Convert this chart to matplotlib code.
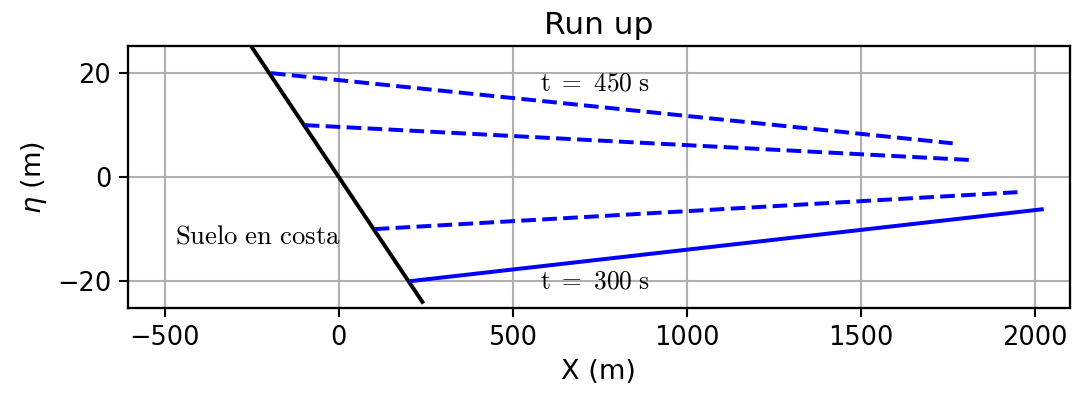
import numpy as np
import matplotlib
matplotlib.use("Agg")
import matplotlib.pyplot as plt

# suelo (costa): eta = -0.1 * x
x_suelo = [-260, 240]
y_suelo = [26, -24]

# perfiles de ola (inicio en la costa, final mar adentro)
x_t300 = [207, 2020]
y_t300 = [-20, -6.2]
x_d1 = [103, 1950]
y_d1 = [-10, -2.9]
x_d2 = [-98, 1812]
y_d2 = [10, 3.3]
x_t450 = [-195, 1764]
y_t450 = [20, 6.5]

fig = plt.figure(figsize=(7.1667, 2.6267), dpi=150)
ax = fig.add_axes([0.119, 0.218, 0.876, 0.665])
lw = 1.9
ax.plot(x_suelo, y_suelo, 'k-', lw=lw)
ax.plot(x_t300, y_t300, 'b-', lw=lw)
ax.plot(x_d1, y_d1, 'b--', lw=lw)
ax.plot(x_d2, y_d2, 'b--', lw=lw)
ax.plot(x_t450, y_t450, 'b--', lw=lw)
ax.text(578, 18, r'$\mathrm{t\ =\ 450\ s}$', fontsize=12.2, va='center', math_fontfamily='cm')
ax.text(578, -20, r'$\mathrm{t\ =\ 300\ s}$', fontsize=12.2, va='center', math_fontfamily='cm')
ax.text(-470, -11.5, r'$\mathrm{Suelo\ en\ costa}$', fontsize=12.8, va='center', math_fontfamily='cm')
ax.set_xlim(-606, 2100)
ax.set_ylim(-25.2, 25.2)
ax.set_xticks([-500, 0, 500, 1000, 1500, 2000])
ax.set_yticks([-20, 0, 20])
ax.tick_params(labelsize=12.3, length=4.5, width=1)
for s in ax.spines.values():
    s.set_linewidth(1.1)
ax.grid(True, lw=1)
ax.set_title('Run up', fontsize=15)
ax.set_xlabel('X (m)', fontsize=13)
ax.set_ylabel(r'$\eta$ (m)', fontsize=13)
fig.savefig('out.png', dpi=150)
